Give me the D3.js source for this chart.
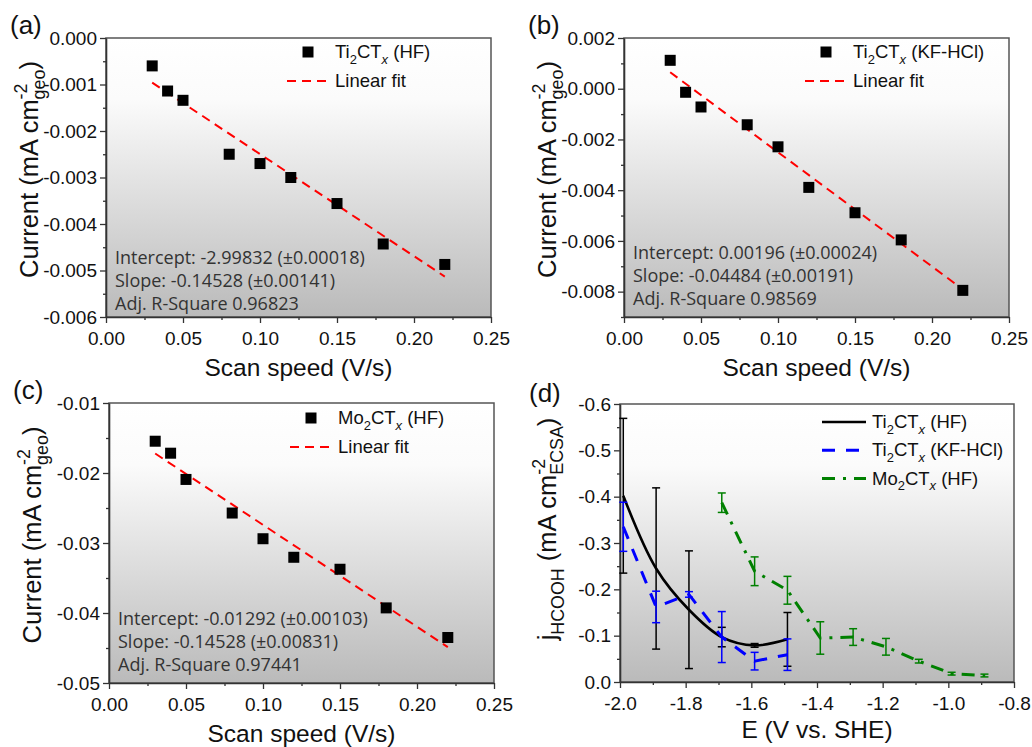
<!DOCTYPE html>
<html>
<head>
<meta charset="utf-8">
<script src="https://cdn.jsdelivr.net/npm/d3@7"></script>
<style>
  body { margin: 0; background: #fff; }
  text { font-family: "Liberation Sans", Arial, sans-serif; fill: #111; white-space: pre; }
  .note { font-family: "Open Sans", sans-serif; fill: #333; }
</style>
</head>
<body>
<script>
// Panels (a)-(c): scan speed vs current
const speeds = [0.03, 0.04, 0.05, 0.08, 0.10, 0.12, 0.15, 0.18, 0.22];
const currentA = [-0.0006, -0.00114, -0.00134, -0.0025, -0.0027, -0.003, -0.00356, -0.00443, -0.00487];
const currentB = [0.00112, -0.00014, -0.00072, -0.00142, -0.00229, -0.00389, -0.00489, -0.00596, -0.00795];
const currentC = [-0.01546, -0.01717, -0.02092, -0.02572, -0.02939, -0.03204, -0.03375, -0.03927, -0.0435];
const fitX = [0.03, 0.22];
const fitA = [-0.00096, -0.00513];
const fitB = [0.00065, -0.00791];
const fitC = [-0.01722, -0.04487];
const notesA = ["Intercept: -2.99832 (\u00b10.00018)", "Slope: -0.14528 (\u00b10.00141)", "Adj. R-Square 0.96823"];
const notesB = ["Intercept: 0.00196 (\u00b10.00024)", "Slope: -0.04484 (\u00b10.00191)", "Adj. R-Square 0.98569"];
const notesC = ["Intercept: -0.01292 (\u00b10.00103)", "Slope: -0.14528 (\u00b10.00831)", "Adj. R-Square 0.97441"];
const speedTicks = [0, 0.05, 0.10, 0.15, 0.20, 0.25];
const ticksA = [0, -0.001, -0.002, -0.003, -0.004, -0.005, -0.006];
const ticksB = [0.002, 0, -0.002, -0.004, -0.006, -0.008];
const ticksC = [-0.01, -0.02, -0.03, -0.04, -0.05];

// Panel (d): formate partial current density
const potTi = [-1.99, -1.89, -1.79, -1.69, -1.59, -1.49];
const jTiHF = [-0.402, -0.245, -0.156, -0.097, -0.079, -0.092];
const errTiHF = [0.167, 0.174, 0.127, 0.021, 0.004, 0.058];
const jTiKF = [-0.335, -0.162, -0.189, -0.097, -0.045, -0.059];
const errTiKF = [0.053, 0.034, 0.006, 0.055, 0.019, 0.034];
const potMo = [-1.69, -1.59, -1.49, -1.39, -1.29, -1.19, -1.09, -0.99, -0.89];
const jMo = [-0.387, -0.239, -0.198, -0.095, -0.097, -0.076, -0.045, -0.018, -0.014];
const errMo = [0.021, 0.031, 0.030, 0.035, 0.018, 0.018, 0.004, 0.003, 0.003];
const potTicks = [-2.0, -1.8, -1.6, -1.4, -1.2, -1.0, -0.8];
const jTicks = [-0.6, -0.5, -0.4, -0.3, -0.2, -0.1, 0.0];

const svg = d3.select("body").append("svg")
  .attr("width", 1032).attr("height", 747);

const defs = svg.append("defs");
const grad = defs.append("linearGradient").attr("id", "bg")
  .attr("x1", 0).attr("y1", 0).attr("x2", 0).attr("y2", 1);
grad.append("stop").attr("offset", "0%").attr("stop-color", "#ffffff");
grad.append("stop").attr("offset", "22%").attr("stop-color", "#fbfbfb");
grad.append("stop").attr("offset", "100%").attr("stop-color", "#bababa");

const fmt = (f) => (d) => d3.format(f)(d).replace("\u2212", "-");

// text with sub/superscripts
function rich(g, x, y, parts, size) {
  const t = g.append("text").attr("x", x).attr("y", y).attr("font-size", size);
  let shift = 0;
  parts.forEach((p) => {
    const target = p.sub ? size * 0.3 : p.sup ? -size * 0.4 : 0;
    const ts = t.append("tspan").attr("dy", target - shift).text(p.t);
    if (p.sub || p.sup) ts.attr("font-size", size * 0.7);
    if (p.it) ts.attr("font-style", "italic");
    shift = target;
  });
  return t;
}

// rotated y title with stacked sup/sub
function yTitle(g, cx, cy, pre, preSub, mid, sup, sub, size) {
  const r = g.append("g").attr("transform", `translate(${cx},${cy}) rotate(-90)`);
  const t0 = r.append("text").attr("font-size", size).attr("y", 0).text(pre);
  let x = t0.node().getComputedTextLength();
  if (preSub) {
    const ts = r.append("text").attr("font-size", size * 0.7).attr("x", x).attr("y", size * 0.3).text(preSub);
    x += ts.node().getComputedTextLength();
  }
  const t1 = r.append("text").attr("font-size", size).attr("x", x).attr("y", 0).text(mid);
  x += t1.node().getComputedTextLength();
  const s1 = r.append("text").attr("font-size", size * 0.7).attr("x", x).attr("y", -size * 0.42).text(sup);
  const s2 = r.append("text").attr("font-size", size * 0.7).attr("x", x).attr("y", size * 0.28).text(sub);
  x += Math.max(s1.node().getComputedTextLength(), s2.node().getComputedTextLength());
  const t2 = r.append("text").attr("font-size", size).attr("x", x).attr("y", 0).text(")");
  x += t2.node().getComputedTextLength();
  r.selectAll("text").each(function () {
    const el = d3.select(this);
    el.attr("x", (+el.attr("x") || 0) - x / 2);
  });
}

function frame(box, x, y, xTicks, yTicks, xMinor, yMinor, xf, yf) {
  const g = svg.append("g");
  g.append("rect").attr("x", box.l).attr("y", box.t)
    .attr("width", box.r - box.l).attr("height", box.b - box.t)
    .attr("fill", "url(#bg)").attr("stroke", "#555").attr("stroke-width", 1.5);
  const ax = g.append("g").attr("transform", `translate(0,${box.b})`)
    .call(d3.axisBottom(x).tickValues(xTicks).tickFormat(fmt(xf)).tickSize(6).tickSizeOuter(0).tickPadding(5));
  g.append("g").attr("transform", `translate(0,${box.b})`)
    .call(d3.axisBottom(x).tickValues(xMinor).tickFormat("").tickSize(3).tickSizeOuter(0))
    .select(".domain").remove();
  g.append("g").attr("transform", `translate(${box.l},0)`)
    .call(d3.axisLeft(y).tickValues(yTicks).tickFormat(fmt(yf)).tickSize(6).tickSizeOuter(0).tickPadding(3));
  g.append("g").attr("transform", `translate(${box.l},0)`)
    .call(d3.axisLeft(y).tickValues(yMinor).tickFormat("").tickSize(3).tickSizeOuter(0))
    .select(".domain").remove();
  g.selectAll(".tick line").attr("stroke", "#333").attr("stroke-width", 1.3);
  g.selectAll(".domain").attr("stroke", "#333").attr("stroke-width", 1.6);
  g.selectAll(".tick text").attr("font-size", 19)
    .attr("font-family", "Liberation Sans, Arial, sans-serif").attr("fill", "#111");
  ax.selectAll(".tick text").attr("dy", "0.9em");
  return g;
}

function mid(a) {
  const out = [];
  for (let i = 0; i < a.length - 1; i++) out.push((a[i] + a[i + 1]) / 2);
  return out;
}

function scanPanel(box, label, yDom, yTicks, yf, vals, fit, name, notes, leg, noteY) {
  const x = d3.scaleLinear().domain([0, 0.25]).range([box.l, box.r]);
  const y = d3.scaleLinear().domain(yDom).range([box.b, box.t]);
  const step = yTicks[0] - yTicks[1];
  const yMinor = d3.range(yDom[1], yDom[0] - step * 0.01, -step / 2)
    .filter((v) => !yTicks.some((t) => Math.abs(t - v) < step * 0.01));
  const g = frame(box, x, y, speedTicks, yTicks, mid(speedTicks), yMinor, ".2f", yf);

  // fit line
  g.append("line")
    .attr("x1", x(fitX[0])).attr("y1", y(fit[0]))
    .attr("x2", x(fitX[1])).attr("y2", y(fit[1]))
    .attr("stroke", "#ff0000").attr("stroke-width", 2).attr("stroke-dasharray", "9,6");
  // points
  g.selectAll(".pt").data(speeds).enter().append("rect")
    .attr("x", (d) => x(d) - 5.5).attr("y", (d, i) => y(vals[i]) - 5.5)
    .attr("width", 11).attr("height", 11).attr("fill", "#000");

  // legend
  g.append("rect").attr("x", leg.x - 5.5).attr("y", leg.y - 5.5)
    .attr("width", 11).attr("height", 11).attr("fill", "#000");
  rich(g, leg.tx, leg.y + 6, name, 18.5);
  g.append("line").attr("x1", leg.x - 21).attr("x2", leg.x + 22)
    .attr("y1", leg.y + 29).attr("y2", leg.y + 29)
    .attr("stroke", "#ff0000").attr("stroke-width", 2).attr("stroke-dasharray", "9,6");
  g.append("text").attr("x", leg.tx).attr("y", leg.y + 35).attr("font-size", 18.5).text("Linear fit");

  // fit notes
  notes.forEach((s, i) => {
    g.append("text").attr("class", "note").attr("x", box.l + 9).attr("y", noteY + i * 23)
      .attr("font-size", 18).text(s);
  });

  // titles
  g.append("text").attr("x", box.l - 96).attr("y", box.t - 4).attr("font-size", 26).text(label);
  g.append("text").attr("x", (box.l + box.r) / 2).attr("y", box.b + 59)
    .attr("text-anchor", "middle").attr("font-size", 24.5).text("Scan speed (V/s)");
  yTitle(g, box.l - 68, (box.t + box.b) / 2 - 8, "Current (mA cm", null, "", "-2", "geo", 25.5);
}

const tiHF = [{ t: "Ti" }, { t: "2", sub: true }, { t: "CT" }, { t: "x", sub: true, it: true }, { t: " (HF)" }];
const tiKF = [{ t: "Ti" }, { t: "2", sub: true }, { t: "CT" }, { t: "x", sub: true, it: true }, { t: " (KF-HCl)" }];
const moHF = [{ t: "Mo" }, { t: "2", sub: true }, { t: "CT" }, { t: "x", sub: true, it: true }, { t: " (HF)" }];

scanPanel({ l: 106, r: 491, t: 38, b: 317 }, "(a)", [-0.006, 0], ticksA, ".3f",
  currentA, fitA, tiHF, notesA, { x: 308, y: 52, tx: 335 }, 264);
scanPanel({ l: 624, r: 1009, t: 38, b: 317 }, "(b)", [-0.009, 0.002], ticksB, ".3f",
  currentB, fitB, tiKF, notesB, { x: 826, y: 52, tx: 853 }, 259);
scanPanel({ l: 109, r: 494, t: 403, b: 683 }, "(c)", [-0.05, -0.01], ticksC, ".2f",
  currentC, fitC, moHF, notesC, { x: 311, y: 418, tx: 338 }, 625);

// Panel (d)
(function () {
  const box = { l: 620, r: 1014, t: 404, b: 682 };
  const x = d3.scaleLinear().domain([-2.0, -0.8]).range([box.l, box.r]);
  const y = d3.scaleLinear().domain([0, -0.6]).range([box.b, box.t]);
  const g = frame(box, x, y, potTicks, jTicks, mid(potTicks), mid(jTicks), ".1f", ".1f");

  const series = [
    { pot: potTi, j: jTiHF, err: errTiHF, color: "#000000", dash: null, w: 2.6, curve: d3.curveCatmullRom.alpha(0.5), name: tiHF },
    { pot: potTi, j: jTiKF, err: errTiKF, color: "#0000ff", dash: "13,11", w: 3, curve: d3.curveLinear, name: tiKF },
    { pot: potMo, j: jMo, err: errMo, color: "#008000", dash: "13,8,3,8", w: 3, curve: d3.curveLinear, name: moHF }
  ];

  series.forEach((s) => {
    const pts = s.pot.map((p, i) => [p, s.j[i], s.err[i]]);
    const eb = g.append("g").attr("stroke", s.color).attr("stroke-width", 1.5);
    pts.forEach((p) => {
      const y1 = y(p[1] - p[2]), y2 = y(p[1] + p[2]), cx = x(p[0]);
      eb.append("line").attr("x1", cx).attr("x2", cx).attr("y1", y1).attr("y2", y2);
      eb.append("line").attr("x1", cx - 4).attr("x2", cx + 4).attr("y1", y1).attr("y2", y1);
      eb.append("line").attr("x1", cx - 4).attr("x2", cx + 4).attr("y1", y2).attr("y2", y2);
    });
    g.append("path").datum(pts)
      .attr("d", d3.line().x((d) => x(d[0])).y((d) => y(d[1])).curve(s.curve))
      .attr("fill", "none").attr("stroke", s.color).attr("stroke-width", s.w)
      .attr("stroke-dasharray", s.dash);
  });

  // legend
  series.forEach((s, i) => {
    const ly = 422 + i * 28.3;
    g.append("line").attr("x1", 822).attr("x2", 866).attr("y1", ly).attr("y2", ly)
      .attr("stroke", s.color).attr("stroke-width", s.w).attr("stroke-dasharray", s.dash);
    rich(g, 872, ly + 6, s.name, 18.5);
  });

  g.append("text").attr("x", box.l - 91).attr("y", box.t - 2).attr("font-size", 26).text("(d)");
  g.append("text").attr("x", (box.l + box.r) / 2).attr("y", box.b + 56)
    .attr("text-anchor", "middle").attr("font-size", 24.5).text("E (V vs. SHE)");
  yTitle(g, box.l - 64, (box.t + box.b) / 2 - 14, "j", "HCOOH", "\u00a0(mA cm", "-2", "ECSA", 25.5);
})();
</script>
</body>
</html>
